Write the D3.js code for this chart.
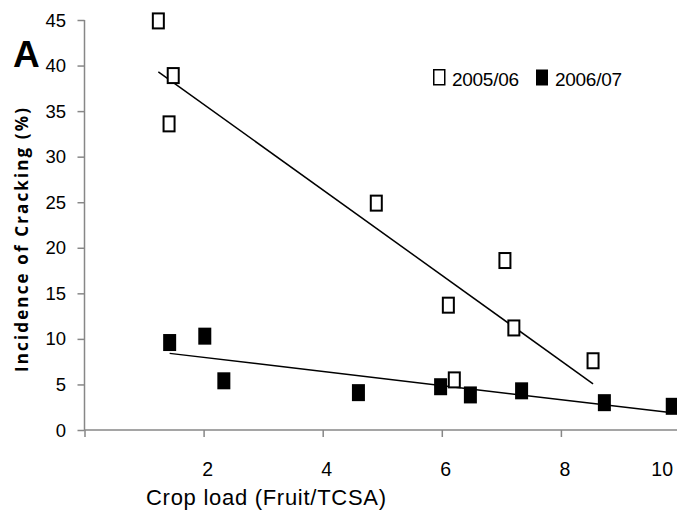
<!DOCTYPE html>
<html>
<head>
<meta charset="utf-8">
<script src="https://cdn.jsdelivr.net/npm/d3@7.9.0/dist/d3.min.js"></script>
<style>
  body { margin: 0; background: #fff; }
  svg { display: block; }
  .tick-label { font-family: "Liberation Sans", Arial, sans-serif; fill: #000; }
</style>
</head>
<body>
<svg id="chart" width="677" height="510"></svg>
<script>
// 2005/06 season (open squares)
const season0506X = [1.24, 1.49, 1.42, 4.9, 6.11, 7.06, 7.21, 8.54, 6.21];
const season0506Y = [44.9, 38.9, 33.6, 24.9, 13.7, 18.6, 11.2, 7.6, 5.5];
// 2006/07 season (filled squares)
const season0607X = [1.43, 2.02, 2.34, 4.6, 5.98, 6.48, 7.34, 8.73, 9.87];
const season0607Y = [9.6, 10.3, 5.4, 4.1, 4.75, 3.85, 4.3, 3.0, 2.6];

const seriesNames = ['2005/06', '2006/07'];
const xTicks = [0, 2, 4, 6, 8, 10];
const yTicks = [0, 5, 10, 15, 20, 25, 30, 35, 40, 45];

const svg = d3.select('#chart');

const x = d3.scaleLinear().domain([0, 10]).range([84.5, 680]);
const y = d3.scaleLinear().domain([0, 45]).range([430, 20]);

const axisColor = '#878787';

// y axis
const yAxis = svg.append('g').attr('transform', `translate(${x(0)},0)`)
  .call(d3.axisLeft(y).tickValues(yTicks).tickSize(7).tickFormat(''));
yAxis.select('.domain').attr('d', `M0,${y(0)}V${y(45)}`);
yAxis.selectAll('path, line').attr('stroke', axisColor).attr('stroke-width', 1.5);

svg.append('g').selectAll('text').data(yTicks).join('text')
  .attr('class', 'tick-label')
  .attr('x', 66).attr('y', (d) => y(d) + 6.5)
  .attr('text-anchor', 'end')
  .attr('font-size', 18.5)
  .text((d) => d);

// x axis
const xAxis = svg.append('g').attr('transform', `translate(0,${y(0)})`)
  .call(d3.axisBottom(x).tickValues(xTicks).tickSize(7).tickFormat(''));
xAxis.select('.domain').attr('d', `M${x(0)},0H677`);
xAxis.selectAll('path, line').attr('stroke', axisColor).attr('stroke-width', 1.5);

svg.append('g').selectAll('text').data(xTicks.filter((d) => d > 0)).join('text')
  .attr('class', 'tick-label')
  .attr('x', (d) => (d === 10 ? 673 : x(d) + 4))
  .attr('y', 476)
  .attr('text-anchor', (d) => (d === 10 ? 'end' : 'middle'))
  .attr('font-size', 19.5)
  .text((d) => d);

// axis titles
svg.append('text')
  .attr('x', 146).attr('y', 505)
  .attr('font-family', '"Liberation Sans", Arial, sans-serif')
  .attr('font-size', 22)
  .attr('textLength', 240)
  .attr('lengthAdjust', 'spacing')
  .text('Crop load (Fruit/TCSA)');

svg.append('text')
  .attr('transform', 'translate(27.5,372) rotate(-90)')
  .attr('font-family', '"Open Sans", "DejaVu Sans", sans-serif')
  .attr('font-weight', 'bold')
  .attr('font-size', 17)
  .attr('textLength', 264)
  .attr('lengthAdjust', 'spacing')
  .text('Incidence of Cracking  (%)');

svg.append('text')
  .attr('x', 13).attr('y', 67)
  .attr('font-family', '"Liberation Sans Narrow", "Liberation Sans", Arial, sans-serif')
  .attr('font-weight', 'bold')
  .attr('font-size', 37)
  .text('A');

// linear trend lines (least squares over each series)
function trend(xs, ys) {
  const mx = d3.mean(xs);
  const my = d3.mean(ys);
  const sxy = d3.sum(xs, (v, i) => (v - mx) * (ys[i] - my));
  const sxx = d3.sum(xs, (v) => (v - mx) * (v - mx));
  const slope = sxy / sxx;
  const b = my - slope * mx;
  const [x0, x1] = d3.extent(xs);
  return [[x0, b + slope * x0], [x1, b + slope * x1]];
}

const line = d3.line().x((d) => x(d[0])).y((d) => y(d[1]));

[[season0506X, season0506Y], [season0607X, season0607Y]].forEach(([xs, ys]) => {
  svg.append('path')
    .attr('d', line(trend(xs, ys)))
    .attr('fill', 'none')
    .attr('stroke', '#000')
    .attr('stroke-width', 1.5);
});

// markers
const open = season0506X.map((v, i) => [v, season0506Y[i]]);
const filled = season0607X.map((v, i) => [v, season0607Y[i]]);

svg.append('g').selectAll('rect').data(open).join('rect')
  .attr('x', (d) => x(d[0]) - 5.5)
  .attr('y', (d) => y(d[1]) - 7.5)
  .attr('width', 11).attr('height', 15)
  .attr('fill', '#fff')
  .attr('stroke', '#000')
  .attr('stroke-width', 2);

svg.append('g').selectAll('rect').data(filled).join('rect')
  .attr('x', (d) => x(d[0]) - 6.5)
  .attr('y', (d) => y(d[1]) - 8.5)
  .attr('width', 13).attr('height', 17)
  .attr('fill', '#000');

// legend
const legend = svg.append('g').attr('transform', 'translate(433,69)');
seriesNames.forEach((name, i) => {
  const g = legend.append('g').attr('transform', `translate(${i * 103},0)`);
  if (i === 0) {
    g.append('rect').attr('x', 0.75).attr('y', 0.75).attr('width', 11).attr('height', 15)
      .attr('fill', '#fff').attr('stroke', '#000').attr('stroke-width', 1.5);
  } else {
    g.append('rect').attr('x', 0).attr('y', 0.5).attr('width', 12).attr('height', 16)
      .attr('fill', '#000');
  }
  g.append('text')
    .attr('x', 19).attr('y', 16.5)
    .attr('font-family', '"Liberation Sans", Arial, sans-serif')
    .attr('font-size', 19)
    .attr('textLength', 67)
    .attr('lengthAdjust', 'spacing')
    .text(name);
});
</script>
</body>
</html>
